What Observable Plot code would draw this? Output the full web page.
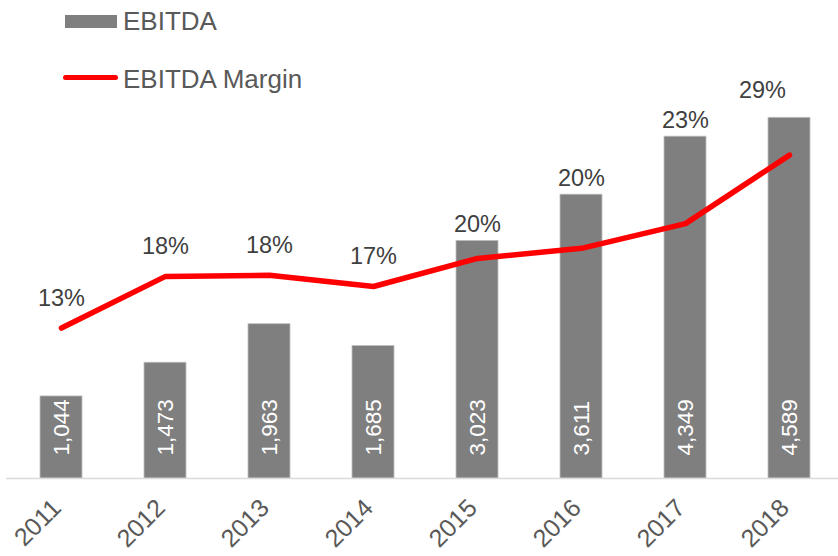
<!DOCTYPE html>
<html>
<head>
<meta charset="utf-8">
<script src="https://cdn.jsdelivr.net/npm/d3@7"></script>
<script src="https://cdn.jsdelivr.net/npm/@observablehq/plot@0.6"></script>
<style>
  html, body { margin: 0; padding: 0; background: #fff; }
  #wrap { position: relative; width: 838px; height: 556px; font-family: "Liberation Sans", Arial, sans-serif; }
  .leg { position: absolute; font-size: 26px; line-height: 26px; color: #595959; white-space: nowrap; }
  .sw { position: absolute; }
</style>
</head>
<body>
<div id="wrap">
  <div class="sw" style="left:65px;top:15px;width:52px;height:13px;background:#7f7f7f;"></div>
  <div class="leg" style="left:123px;top:8px;">EBITDA</div>
  <div class="sw" style="left:63px;top:75px;width:55px;height:5px;border-radius:2.5px;background:#ff0000;"></div>
  <div class="leg" style="left:123px;top:66px;">EBITDA Margin</div>
</div>
<script>
const years = ["2011", "2012", "2013", "2014", "2015", "2016", "2017", "2018"];
const ebitda = [1044, 1473, 1963, 1685, 3023, 3611, 4349, 4589];
const ebitdaLabels = ["1,044", "1,473", "1,963", "1,685", "3,023", "3,611", "4,349", "4,589"];
const margin = [13.4, 18.0, 18.1, 17.1, 19.6, 20.5, 22.7, 28.8];
const marginLabels = ["13%", "18%", "18%", "17%", "20%", "20%", "23%", "29%"];
const yMax = 5000;      // primary axis max
const y2Max = 35;       // secondary axis max (%)

const data = years.map((year, i) => {
  const m = margin[i] / y2Max * yMax;
  return {
    year, ebitda: ebitda[i], ebitdaLabel: ebitdaLabels[i],
    marginScaled: m, marginLabel: marginLabels[i],
    labelY: Math.max(ebitda[i], m), barDriven: ebitda[i] > m, last: i === years.length - 1
  };
});

const font = "Liberation Sans, Arial, sans-serif";
const chart = Plot.plot({
  width: 838,
  height: 556,
  marginTop: 85,
  marginBottom: 78,
  marginLeft: 6,
  marginRight: 0,
  style: { fontFamily: font, background: "transparent" },
  x: { domain: years, range: [6, 844], paddingInner: 0.6, paddingOuter: 0.3, axis: null },
  y: { domain: [0, yMax], axis: null },
  marks: [
    Plot.barY(data, { x: "year", y: "ebitda", fill: "#7f7f7f", stroke: "#bfbfbf", strokeWidth: 0.8 }),
    Plot.ruleY([0], { stroke: "#d9d9d9", strokeWidth: 1.5 }),
    Plot.text(data, { x: "year", y: 0, text: "ebitdaLabel", rotate: -90, textAnchor: "start", dy: -23, fill: "white", fontSize: 22.5, fontFamily: font }),
    Plot.line(data, { x: "year", y: "marginScaled", stroke: "#ff0000", strokeWidth: 5.5, strokeLinecap: "round", strokeLinejoin: "round" }),
    Plot.text(data.filter(d => !d.barDriven), { x: "year", y: "labelY", text: "marginLabel", dy: -30, fill: "#404040", fontSize: 23.5, fontFamily: font }),
    Plot.text(data.filter(d => d.barDriven && !d.last), { x: "year", y: "labelY", text: "marginLabel", dy: -16, fill: "#404040", fontSize: 23.5, fontFamily: font }),
    Plot.text(data.filter(d => d.last), { x: "year", y: "labelY", text: "marginLabel", dx: -27, dy: -27, fill: "#404040", fontSize: 23.5, fontFamily: font }),
    Plot.text(data, { x: "year", frameAnchor: "bottom", text: "year", rotate: -45, textAnchor: "end", dx: 1, dy: 31, fill: "#595959", fontSize: 25, fontFamily: font })
  ]
});
chart.style.position = "absolute";
chart.style.left = "0";
chart.style.top = "0";
document.getElementById("wrap").prepend(chart);
</script>
</body>
</html>
